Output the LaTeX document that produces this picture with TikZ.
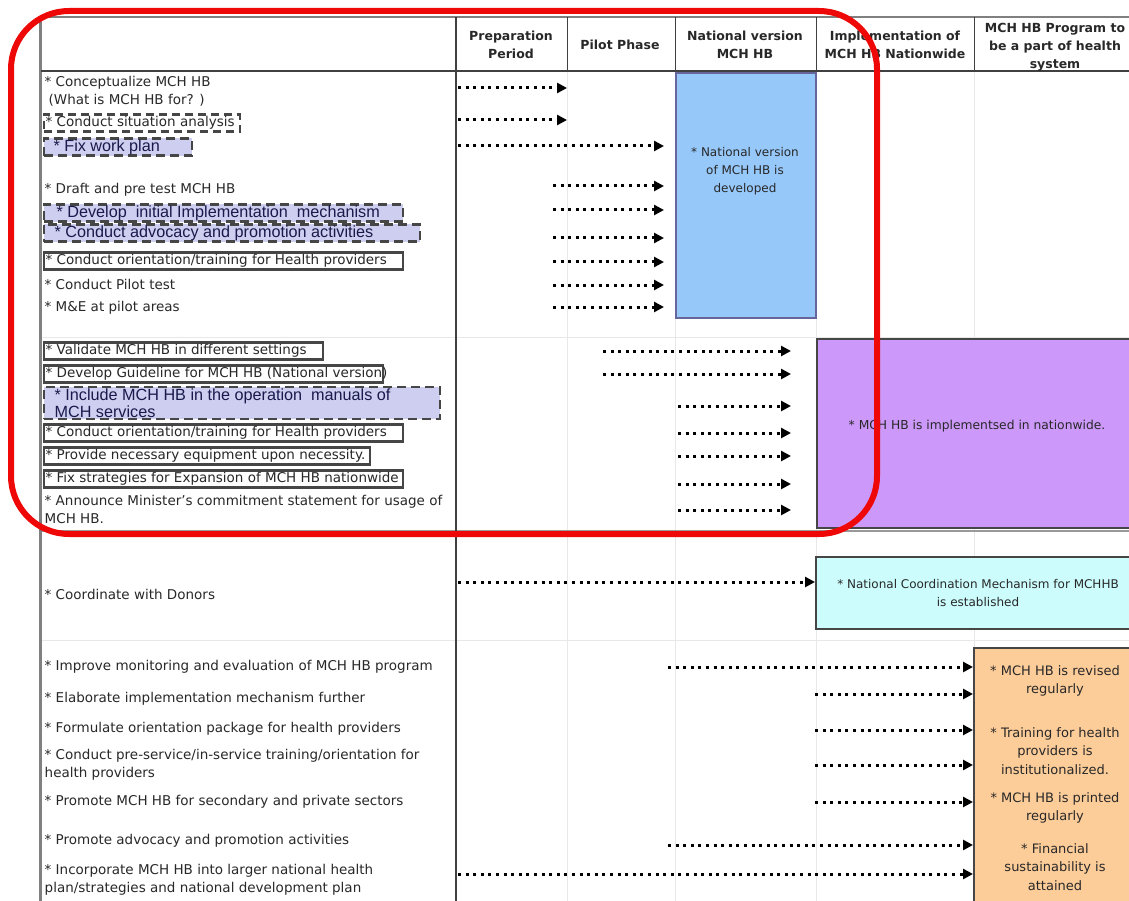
\documentclass[tikz,border=0pt]{standalone}
\usepackage{fontspec}
\setmainfont{DejaVu Sans}
\newfontfamily\planfont{Liberation Sans}
\usetikzlibrary{arrows.meta}

\definecolor{lav}{RGB}{206,206,240}
\definecolor{nvblue}{RGB}{150,200,250}
\definecolor{nwpurple}{RGB}{204,153,250}
\definecolor{coordcyan}{RGB}{204,252,252}
\definecolor{sysorange}{RGB}{252,204,153}
\definecolor{ink}{RGB}{40,40,40}
\definecolor{plannavy}{RGB}{25,25,75}
\definecolor{framegrey}{RGB}{70,70,70}
\definecolor{ringred}{RGB}{238,8,8}

% one left-aligned line of fixed width (no wrapping)
\newcommand{\cellline}[2]{\makebox[#1][l]{#2}}

\tikzset{
  item/.style={anchor=west, inner xsep=1.5pt, inner ysep=1pt, text=ink,
    font=\fontsize{13.5}{18}\selectfont, align=left},
  solidbox/.style={item, inner ysep=2pt, draw=framegrey, line width=2.2pt, fill=white},
  dashbox/.style={item, inner ysep=2pt, draw=framegrey, line width=2.2pt, dash pattern=on 8pt off 5pt, fill=white},
  planbox/.style={item, draw=framegrey, line width=2.2pt, dash pattern=on 9pt off 5pt,
    fill=lav, text=plannavy, font=\planfont\fontsize{16.2}{17.5}\selectfont},
  head/.style={font=\bfseries\fontsize{12.5}{18}\selectfont, align=center, text=ink},
  result/.style={draw=framegrey, line width=1.8pt, anchor=north west, inner sep=0pt},
  restext/.style={font=\fontsize{12}{18}\selectfont, align=center, text=ink},
  dotarrow/.style={black, line width=3pt, dash pattern=on 3pt off 4.6pt,
    -{Triangle[length=10pt,width=10pt]}},
  grid/.style={black!9, line width=0.8pt},
}

\begin{document}
\begin{tikzpicture}[x=1pt,y=-1pt]
\useasboundingbox (0,0) rectangle (1129,901);
\begin{scope}
\clip (0,0) rectangle (1129,901);

% ---------- table frame ----------
\foreach \y in {337,640} \draw[grid] (42,\y) -- (1129,\y);
\foreach \x in {567,675,816,974} \draw[grid] (\x,71) -- (\x,901);
\draw[black!40, line width=1.2pt] (42,531) -- (1129,531);
\draw[black!50, line width=3pt] (40,17) -- (40,901);
\draw[black!50, line width=2.5pt] (40,17) -- (1129,17);
\draw[black!75, line width=1.2pt] (41,71) -- (1129,71);
\draw[black!75, line width=1.2pt] (456,17) -- (456,901);
\foreach \x in {567,675,816,974} \draw[black!75, line width=1pt] (\x,17) -- (\x,71);

% ---------- column headings ----------
\node[head] (hprep) at (511,45) {Preparation\\Period};
\node[head] (hpilot) at (620,45) {Pilot Phase};
\node[head] (hnat) at (745,45) {National version\\MCH HB};
\node[head] (himpl) at (895,45) {Implementation of\\MCH HB Nationwide};
\node[head] (hsys) at (1055,47) {MCH HB Program to\\be a part of health\\system};

% ---------- outcome boxes ----------
\node[result, fill=nvblue, draw=black!65!blue!60, minimum width=140pt, minimum height=245pt] (blue) at (675,72) {};
\node[restext] (bluetxt) at (745,171) {* National version\\of MCH HB is\\developed};

\node[result, fill=nwpurple, minimum width=330pt, minimum height=189pt] (purple) at (816,338) {};
\node[restext, font=\fontsize{12.3}{18}\selectfont] (purpletxt) at (977,426) {* MCH HB is implementsed in nationwide.};

\node[result, fill=coordcyan, minimum width=330pt, minimum height=72pt] (cyan) at (815,556) {};
\node[restext] (cyantxt) at (978,593) {* National Coordination Mechanism for MCHHB\\is established};

\node[result, fill=sysorange, minimum width=170pt, minimum height=270pt] (orange) at (973,647) {};
\node[restext, font=\fontsize{13}{18.5}\selectfont] (or1) at (1055,681) {* MCH HB is revised\\regularly};
\node[restext, font=\fontsize{13}{18.5}\selectfont] (or2) at (1055,751) {* Training for health\\providers is\\institutionalized.};
\node[restext, font=\fontsize{13}{18.5}\selectfont] (or3) at (1055,808) {* MCH HB is printed\\regularly};
\node[restext, font=\fontsize{13}{18.5}\selectfont] (or4) at (1055,867) {* Financial\\sustainability is\\attained};

% ---------- activities: preparation and pilot ----------
\node[item] (t1) at (43,91) {* Conceptualize MCH HB\\\hspace{4pt}(What is MCH HB for? )};
\node[dashbox] (t2) at (43,123) {\cellline{193pt}{* Conduct situation analysis}};
\node[planbox] (t3) at (43,147) {\cellline{145pt}{\hspace{8pt}* Fix work plan}};
\node[item] (t4) at (43,190) {* Draft and pre test MCH HB};
\node[planbox] (t5) at (43,213) {\cellline{356pt}{\hspace{11pt}* Develop\ \ initial Implementation\ \ mechanism}};
\node[planbox] (t6) at (43,233) {\cellline{373pt}{\hspace{9pt}* Conduct\ advocacy\ and\ promotion\ activities}};
\node[solidbox] (t7) at (43,261) {\cellline{356pt}{* Conduct orientation/training for Health providers}};
\node[item] (t8) at (43,284) {* Conduct Pilot test};
\node[item] (t9) at (43,308) {* M\&E at pilot areas};

% ---------- activities: national version ----------
\node[solidbox] (t10) at (43,351) {\cellline{276pt}{* Validate MCH HB in different settings}};
\node[solidbox] (t11) at (43,374) {\cellline{336pt}{* Develop Guideline for MCH HB (National version)}};
\node[planbox] (t12) at (43,403) {\cellline{393pt}{\hspace{9pt}* Include MCH HB in the operation\ \ manuals of}\\\cellline{393pt}{\hspace{9pt}MCH services}};
\node[solidbox] (t13) at (43,433) {\cellline{356pt}{* Conduct orientation/training for Health providers}};
\node[solidbox] (t14) at (43,456) {\cellline{323pt}{* Provide necessary equipment upon necessity.}};
\node[solidbox] (t15) at (43,479) {\cellline{356pt}{* Fix strategies for Expansion of MCH HB nationwide}};
\node[item] (t16) at (43,509) {* Announce Minister's commitment statement for usage of\\MCH HB.};

% ---------- activities: coordination and system ----------
\node[item] (t17) at (43,594) {* Coordinate with Donors};
\node[item] (t18) at (43,667) {* Improve monitoring and evaluation of MCH HB program};
\node[item] (t19) at (43,699) {* Elaborate implementation mechanism further};
\node[item] (t20) at (43,729) {* Formulate orientation package for health providers};
\node[item] (t21) at (43,765) {* Conduct pre-service/in-service training/orientation for\\health providers};
\node[item] (t22) at (43,802) {* Promote MCH HB for secondary and private sectors};
\node[item] (t23) at (43,841) {* Promote advocacy and promotion activities};
\node[item] (t24) at (43,880) {* Incorporate MCH HB into larger national health\\plan/strategies and national development plan};

% ---------- dotted timeline arrows ----------
\foreach \n/\xa/\xb/\y in {a1/458/567/88, a2/458/567/120, a3/458/664/146,
    a4/553/664/186, a5/553/664/210, a6/553/664/238, a7/553/664/262,
    a8/553/664/285, a9/553/664/307,
    b1/603/791/351, b2/603/791/374, b3/678/791/406, b4/678/791/433,
    b5/678/791/456, b6/678/791/484, b7/678/791/510} {
  \coordinate (s\n) at (\xa,\y);
  \coordinate (e\n) at (\xb,\y);
  \draw[dotarrow] (s\n) -- (e\n);
}
\coordinate (sc1) at (458,582);
\draw[dotarrow] (sc1) -- (sc1 -| cyan.west);
\foreach \n/\xa/\y in {d1/668/667, d2/815/694, d3/815/730, d4/815/765,
    d5/815/802, d6/668/845, d7/458/874} {
  \coordinate (s\n) at (\xa,\y);
  \draw[dotarrow] (s\n) -- (s\n -| orange.west);
}

% ---------- highlight ring ----------
\draw[ringred, line width=6pt, rounded corners=58pt] (11,11) rectangle (877,534);
\end{scope}
\end{tikzpicture}
\end{document}
